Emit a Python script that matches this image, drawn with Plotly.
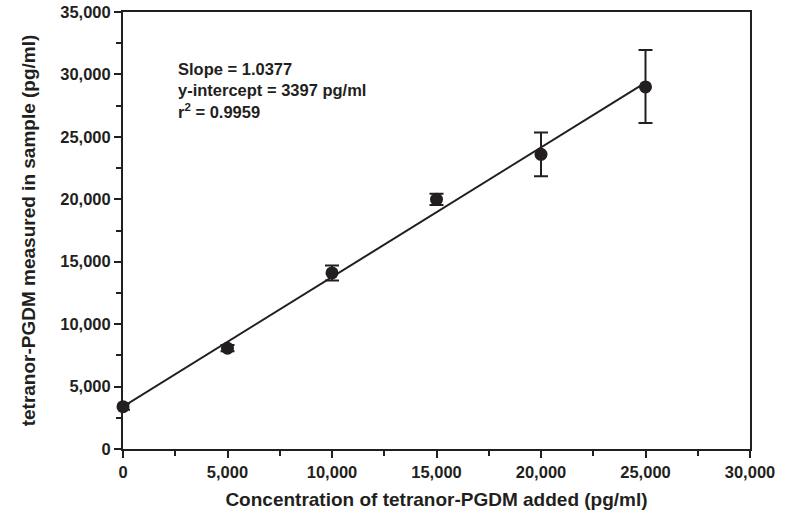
import plotly.graph_objects as go

# spiked amount (pg/ml) vs amount measured (pg/ml), mean +/- error
added = [0, 5000, 10000, 15000, 20000, 25000]
measured = [3390, 8070, 14100, 20000, 23600, 29000]
err_up = [250, 250, 600, 450, 1750, 2950]
err_down = [250, 250, 600, 450, 1750, 2900]

slope = 1.0377
intercept = 3397
r2 = 0.9959
fit_x = [0, 25000]

FONT = "Liberation Sans, Arial, sans-serif"
INK = "#231f20"

fit_y = [slope * x + intercept for x in fit_x]

fig = go.Figure()
fig.add_trace(go.Scatter(
    x=fit_x, y=fit_y, mode="lines",
    line=dict(color=INK, width=2),
    hoverinfo="skip", showlegend=False,
))
fig.add_trace(go.Scatter(
    x=added, y=measured, mode="markers",
    marker=dict(size=13, color=INK),
    error_y=dict(type="data", symmetric=False, array=err_up, arrayminus=err_down,
                 color=INK, thickness=2, width=7),
    cliponaxis=False, showlegend=False,
))

axis_common = dict(
    showline=True, linecolor=INK, linewidth=2, mirror=True,
    ticks="outside", ticklen=7, tickwidth=2, tickcolor=INK,
    showgrid=False, zeroline=False, tickformat=",", automargin=False,
    tickfont=dict(family=FONT, size=16.5, color=INK, weight="bold"),
    minor=dict(ticks="outside", ticklen=5, tickwidth=2, tickcolor=INK),
)

fig.update_xaxes(
    **axis_common, range=[0, 30000], dtick=5000,
    title=dict(text="Concentration of tetranor-PGDM added (pg/ml)", standoff=13,
               font=dict(family=FONT, size=19, color=INK, weight="bold")),
)
fig.update_xaxes(minor_dtick=2500)
fig.update_yaxes(
    **axis_common, range=[0, 35000], dtick=5000,
    title=dict(text="tetranor-PGDM measured in sample (pg/ml)", standoff=20,
               font=dict(family=FONT, size=19, color=INK, weight="bold")),
)
fig.update_yaxes(minor_dtick=2500)

fig.add_annotation(
    text=(f"Slope = {slope:.4f}<br>y-intercept = {intercept} pg/ml"
          f"<br>r<sup>2</sup> = {r2:.4f}"),
    xref="paper", yref="paper", x=0.085, y=0.895,
    xanchor="left", yanchor="top", align="left", showarrow=False,
    font=dict(family=FONT, size=16.5, color=INK, weight="bold"),
)

fig.update_layout(
    width=793, height=520,
    margin=dict(l=123, r=43, t=12, b=71),
    plot_bgcolor="white", paper_bgcolor="white",
)

fig.write_html("out.html", config={"displayModeBar": False},
               post_script="document.body.style.margin='0';")
